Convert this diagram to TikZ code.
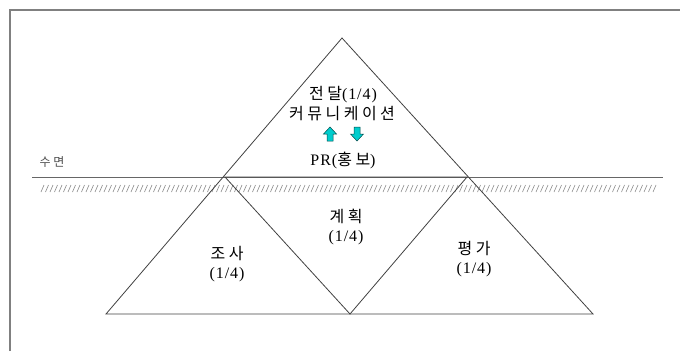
\documentclass[tikz,border=0pt]{standalone}
\usepackage{fontspec}
\setmainfont{Liberation Serif}[LetterSpace=6]
\newfontfamily\kr[LetterSpace=22]{Noto Sans CJK KR}
\definecolor{aqua}{RGB}{0,205,205}

\begin{document}
\begin{tikzpicture}[x=1pt,y=-1pt,
    edge/.style={draw=black!75,line width=0.8pt},
    lbl/.style={font=\fontsize{16}{19}\selectfont,align=center,inner sep=0pt},
    flow/.style={draw=teal!60!black,fill=aqua,line width=0.5pt,line join=miter}]
  \useasboundingbox (0,0) rectangle (680,351);
  % frame
  \draw[black!50,line width=1.6pt] (10,351) -- (10,10) -- (680,10);

  % corners of the pyramid
  \coordinate (top) at (342,38);
  \coordinate (wl) at (225,177);
  \coordinate (wr) at (467,177);
  \coordinate (bl) at (106,314);
  \coordinate (bm) at (350,314);
  \coordinate (br) at (593,314);
  \coordinate (sl) at (32,177);
  \coordinate (sr) at (663,177);

  % water surface
  \draw[black!60,line width=0.9pt] (sl) -- (sr);
  \foreach \x in {41,45.5,...,653}
    \draw[black!45,line width=0.6pt] (\x,192) -- ++(3,-7);

  \draw[edge] (top) -- (bl) -- (br) -- cycle;
  \draw[edge] (wl) -- (wr) -- (bm) -- cycle;

  % up and down arrows
  \coordinate (up) at (330,141);
  \coordinate (down) at (357,127);
  \draw[flow] (up) ++(-3,0) -- ++(0,-7) -- ++(-3.5,0) -- ++(6.5,-7)
    -- ++(6.5,7) -- ++(-3.5,0) -- ++(0,7) -- cycle;
  \draw[flow] (down) ++(-3,0) -- ++(0,7) -- ++(-3.5,0) -- ++(6.5,7)
    -- ++(6.5,-7) -- ++(-3.5,0) -- ++(0,-7) -- cycle;

  % texts
  \node[lbl] (jeon) at (343,95) {{\kr 전달}(1/4)};
  \node[lbl] (comm) at (342,114) {\kr 커뮤니케이션};
  \node[lbl] (pr) at (343,160) {PR({\kr 홍보})};
  \node[lbl,font=\fontsize{12}{14}\selectfont,text=black!70] (surf) at (52,162) {\kr 수면};
  \node[lbl] (plan) at (346,227) {{\kr 계획}\\(1/4)};
  \node[lbl] (study) at (227,264) {{\kr 조사}\\(1/4)};
  \node[lbl] (eval) at (474,259) {{\kr 평가}\\(1/4)};
\end{tikzpicture}
\end{document}
